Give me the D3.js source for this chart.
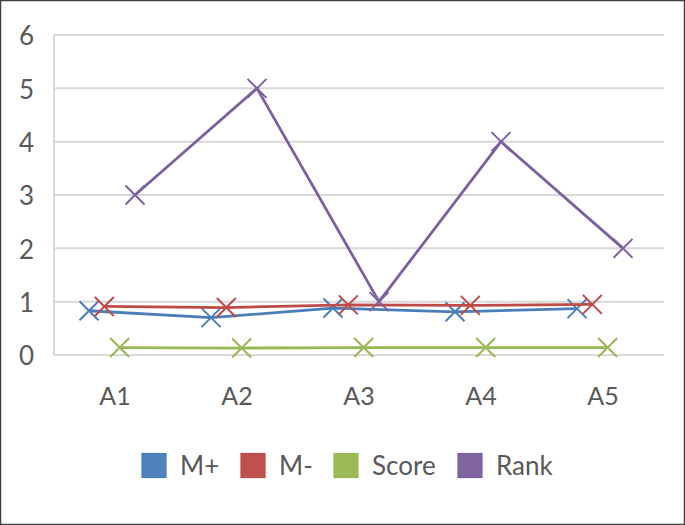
<!DOCTYPE html>
<html><head><meta charset="utf-8">
<script src="https://cdn.jsdelivr.net/npm/d3@7"></script>
<style>body{margin:0;background:#fff}svg{display:block}</style>
</head><body>
<svg id="c" width="685" height="525"></svg>
<script>
const categories = ["A1","A2","A3","A4","A5"];
const seriesNames = ["M+","M-","Score","Rank"];
const mPlus  = [0.83,0.70,0.88,0.81,0.87];
const mMinus = [0.91,0.89,0.94,0.93,0.95];
const score  = [0.14,0.13,0.14,0.14,0.14];
const rank   = [3,5,1,4,2];
const yTicks = [0,1,2,3,4,5,6];
const colors = ["#4A7EBB","#BE4B48","#98B954","#7D60A0"];
const fills  = ["#4F81BD","#C0504D","#9BBB59","#8064A2"];
const seriesData = [mPlus, mMinus, score, rank];

(function(){
const svg = d3.select("#c");
const font = "Lato, 'Open Sans', sans-serif";
svg.append("rect").attr("x",0.5).attr("y",0.5).attr("width",684).attr("height",524)
  .attr("fill","#fff").attr("stroke","#404040").attr("stroke-width",1.5);

const pl=54, pr=664, pt=35, pb=355;
const x0 = d3.scaleBand().domain(categories).range([pl,pr]);
const x1 = d3.scalePoint().domain(seriesNames).range([-26,20]);
const y = d3.scaleLinear().domain([0,6]).range([pb,pt]);

svg.append("g").selectAll("line").data(yTicks).join("line")
  .attr("x1",pl).attr("x2",pr).attr("y1",d=>y(d)).attr("y2",d=>y(d))
  .attr("stroke","#D9D9D9").attr("stroke-width",2);
svg.append("line").attr("x1",pl).attr("x2",pl).attr("y1",pt).attr("y2",pb)
  .attr("stroke","#D9D9D9").attr("stroke-width",2);

const yAxis = d3.axisLeft(y).tickValues(yTicks).tickSize(0).tickPadding(0).tickFormat(d3.format("d"));
const ya = svg.append("g").attr("transform",`translate(${pl-20},0)`).call(yAxis);
ya.select(".domain").remove();
ya.selectAll("text").attr("font-family",font).attr("font-size",26).attr("fill","#595959").attr("dy","0.38em");

const xAxis = d3.axisBottom(x0).tickSize(0).tickPadding(0);
const xa = svg.append("g").attr("transform",`translate(0,405)`).call(xAxis);
xa.select(".domain").remove();
xa.selectAll("text").attr("font-family",font).attr("font-size",25).attr("fill","#595959").attr("y",0).attr("dy",0);

seriesNames.forEach((name,i)=>{
  const vals = seriesData[i];
  const pts = categories.map((c,j)=>[x0(c)+x0.bandwidth()/2+x1(name), y(vals[j])]);
  svg.append("path").attr("d",d3.line()(pts)).attr("fill","none")
    .attr("stroke",colors[i]).attr("stroke-width",2.8).attr("stroke-linejoin","round");
  const s=9.5;
  svg.append("g").selectAll("path").data(pts).join("path")
    .attr("d",p=>`M${p[0]-s},${p[1]-s}L${p[0]+s},${p[1]+s}M${p[0]-s},${p[1]+s}L${p[0]+s},${p[1]-s}`)
    .attr("stroke",colors[i]).attr("stroke-width",2).attr("fill","none");
});

const legX = [142,241,334,458];
const lg = svg.append("g");
seriesNames.forEach((name,i)=>{
  lg.append("rect").attr("x",legX[i]).attr("y",453.5).attr("width",24).attr("height",24)
    .attr("fill",fills[i]).attr("stroke",colors[i]).attr("stroke-width",1.2);
  lg.append("text").attr("x",legX[i]+38).attr("y",475)
    .attr("font-family",font).attr("font-size",26).attr("fill","#595959").text(name);
});
})();
</script>
</body></html>
